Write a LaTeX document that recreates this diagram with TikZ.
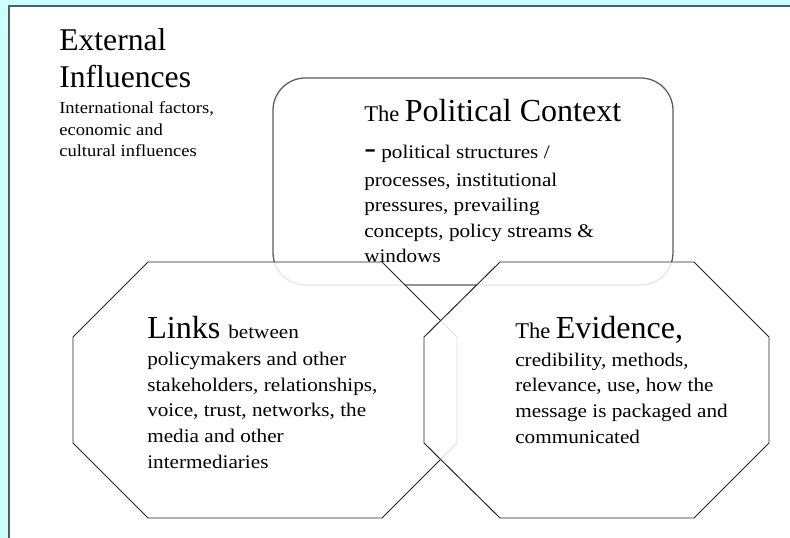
\documentclass[tikz,border=0pt]{standalone}
\usepackage{fontspec}
\setmainfont{Liberation Serif}
\newfontfamily\bodyfont{Liberation Serif}[FakeStretch=1.1]
\usepackage{tikz}

\definecolor{pagecyan}{RGB}{204,255,255}
\definecolor{framegray}{RGB}{90,90,90}

\tikzset{
  body/.style={anchor=base west, align=left, inner sep=0pt, font=\bodyfont\fontsize{13.7}{18.2}\selectfont},
  title/.style={anchor=base west, inner sep=0pt},
  octagon/.style={draw=black!85, line width=0.7pt, fill=white, fill opacity=0.85},
}

\newcommand{\bigfont}{\fontsize{22.8}{27}\selectfont}
\newcommand{\midfont}{\fontsize{16}{18}\selectfont}

\begin{document}
\begin{tikzpicture}[x=0.025cm,y=-0.025cm]
\useasboundingbox (0,0) rectangle (790,538);
\fill[pagecyan] (0,0) rectangle (790,538);
\fill[white] (9,6) rectangle (790,538);
\draw[framegray, line width=1.4pt] (9,538) -- (9,6) -- (790,6);

% a multi-line node sits on the baseline of its last line
\node[title, font=\fontsize{22.5}{27}\selectfont, align=left] (ext) at (59,88) {External\\Influences};
\node[body, font=\bodyfont\fontsize{12}{15.6}\selectfont] (extnote) at (59,157) {International factors,\\economic and\\cultural influences};

\draw[framegray, line width=0.9pt, fill=white, rounded corners=23] (273,78) rectangle (673,285);
\node[title] (poltitle) at (364,122) {\midfont The \bigfont Political Context};
\node[body] (poltext) at (364,263) {{\bigfont -} political structures /\\[1.5pt] processes, institutional\\ pressures, prevailing\\ concepts, policy streams \&\\ windows};

\draw[octagon] (148,262) -- (382,262) -- (457,337) -- (457,443) -- (382,518) -- (148,518) -- (73,443) -- (73,337) -- cycle;
\node[title] (linkstitle) at (147,338) {\bigfont Links \bodyfont\fontsize{13.7}{18}\selectfont between};
\node[body] (linkstext) at (147,468) {policymakers and other\\ stakeholders, relationships,\\ voice, trust, networks, the\\ media and other\\ intermediaries};

\draw[octagon] (500,262) -- (694,262) -- (769,337) -- (769,443) -- (694,518) -- (500,518) -- (424,443) -- (424,337) -- cycle;
\node[title] (evtitle) at (515,338) {\midfont The \bigfont Evidence,};
\node[body] (evtext) at (515,443) {credibility, methods,\\ relevance, use, how the\\ message is packaged and\\ communicated};
\end{tikzpicture}
\end{document}
